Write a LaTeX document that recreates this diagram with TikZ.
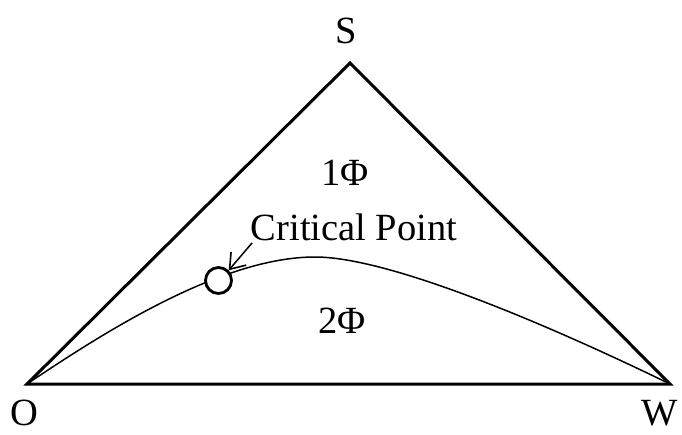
\documentclass[tikz,border=0pt]{standalone}
\usepackage{fontspec}
\setmainfont{Liberation Serif}
\usetikzlibrary{arrows.meta}
\begin{document}
\begin{tikzpicture}[x=1pt,y=-1pt,
  lbl/.style={inner sep=0pt,anchor=base,font=\fontsize{38.5}{40}\selectfont},
  side/.style={line width=3pt,line join=miter},
  curve/.style={line width=1.5pt},
  cpt/.style={circle,draw,line width=2.8pt,fill=white,minimum size=26pt,inner sep=0pt},
  pointer/.style={line width=1.5pt,-{Straight Barb[length=14pt,width=20pt,line width=1.6pt]}}]
\useasboundingbox (0,0) rectangle (682,434);
\coordinate (O) at (27,384);
\coordinate (W) at (670,384);
\coordinate (S) at (350,63);
\coordinate (peak) at (315,257);
\draw[side] (O) -- (S) -- (W) -- cycle;
\draw[curve] (O) .. controls (100,335) and (220,257) .. (peak)
  .. controls (400,257) and (590,345) .. (W);
\node[lbl] (tS) at (346,43) {S};
\node[lbl] (tO) at (24.5,425) {O};
\node[lbl] (tW) at (660,425) {W};
\node[lbl] (one) at (345,185) {1Φ};
\node[lbl] (two) at (342,333) {2Φ};
\node[lbl] (crit) at (354,240) {Critical Point};
\node[cpt] (cp) at (218.5,280.5) {};
\coordinate (ptail) at (252,243);
\draw[pointer] (ptail) -- (cp.45);
\end{tikzpicture}
\end{document}
